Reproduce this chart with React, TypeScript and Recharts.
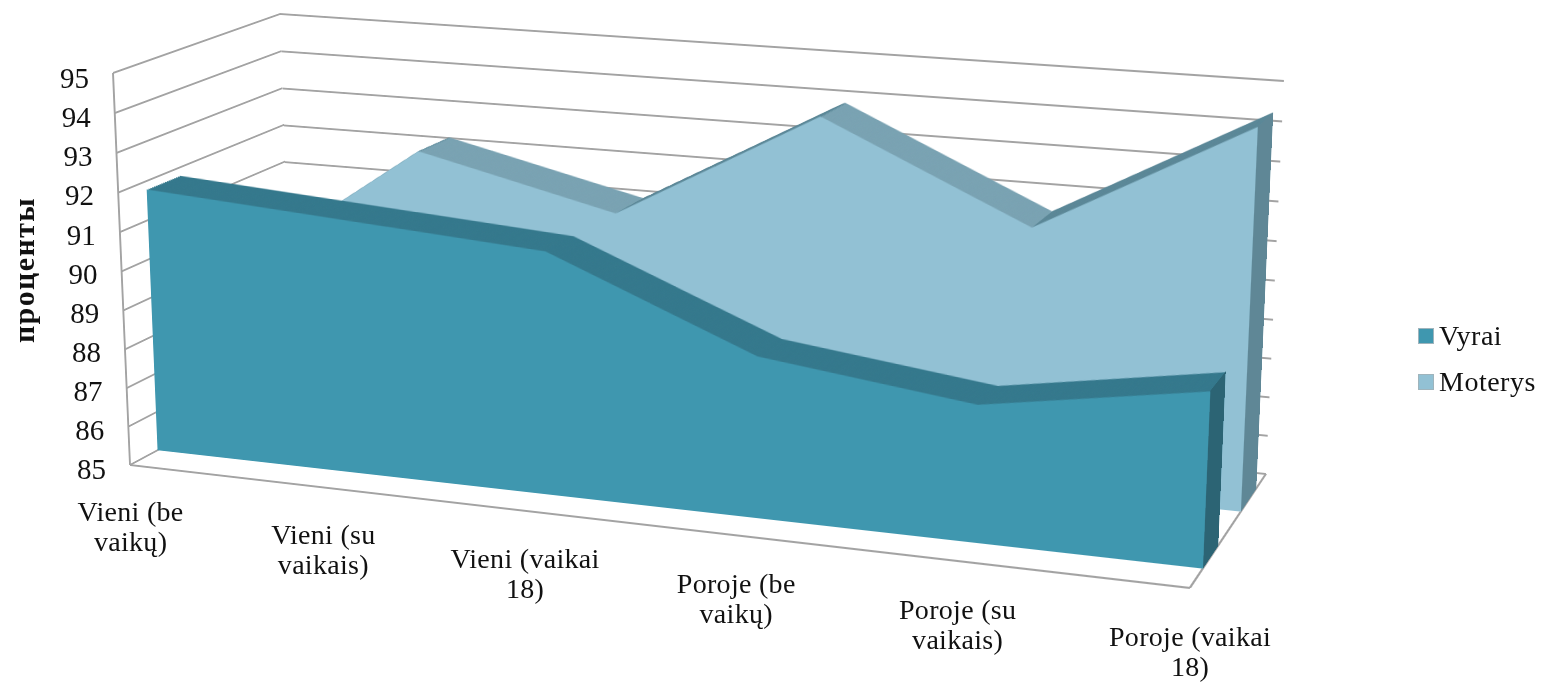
import React from 'react';
import { AreaChart, Area, XAxis, YAxis, ReferenceArea, ReferenceLine, Legend, Label } from 'recharts';

const categoryLines = [
  ['Vieni (be', 'vaikų)'],
  ['Vieni (su', 'vaikais)'],
  ['Vieni (vaikai', '18)'],
  ['Poroje (be', 'vaikų)'],
  ['Poroje (su', 'vaikais)'],
  ['Poroje (vaikai', '18)'],
];
const categories = categoryLines.map((l) => l.join(' '));
const vyrai = [91.8, 91.45, 91.1, 89.0, 88.35, 89.2];
const moterys = [88.7, 92.3, 91.1, 93.95, 91.6, 94.45];
const yTicks = [85, 86, 87, 88, 89, 90, 91, 92, 93, 94, 95];
const axisTitle = 'проценты';

const FONT = '"Liberation Serif", serif';
const GRID = '#a3a3a3';
const VYRAI_FRONT = '#3f97af';
const VYRAI_TOP = '#34788c';
const VYRAI_CAP = '#2c6474';
const MOTERYS_FRONT = '#92c1d4';
const MOTERYS_FALL = '#79a2b2';
const MOTERYS_RISE = '#5a8797';
const MOTERYS_CAP = '#5f8796';

const W = 1000;
const H = 400;
const M = 10;
const MARGIN = { top: M, right: M, bottom: M, left: M };
const INSET: React.CSSProperties = { position: 'absolute', left: -M, top: -M };

type Pt = [number, number];

// corners of the 3d box as seen on the page
const FLT: Pt = [113, 73];
const FLB: Pt = [130, 465];
const BLT: Pt = [280, 14];
const BLB: Pt = [292, 378];
const FRT: Pt = [1208, 150];
const FRB: Pt = [1190, 588];
const BRT: Pt = [1284, 81];
const BRB: Pt = [1266, 474];

const lerp = (a: Pt, b: Pt, t: number): Pt => [a[0] + (b[0] - a[0]) * t, a[1] + (b[1] - a[1]) * t];

// quad = top-left, top-right, bottom-right, bottom-left
const depthPlane = (f: number): Pt[] => [lerp(FLT, BLT, f), lerp(FRT, BRT, f), lerp(FRB, BRB, f), lerp(FLB, BLB, f)];
const capPlane = (f1: number, f2: number): Pt[] => [lerp(FRT, BRT, f1), lerp(FRT, BRT, f2), lerp(FRB, BRB, f2), lerp(FRB, BRB, f1)];

// rectangle W x H onto a quad
function homography(q: Pt[]) {
  const [[x0, y0], [x1, y1], [x2, y2], [x3, y3]] = q;
  const dx1 = x1 - x2, dx2 = x3 - x2, sx = x0 - x1 + x2 - x3;
  const dy1 = y1 - y2, dy2 = y3 - y2, sy = y0 - y1 + y2 - y3;
  const den = dx1 * dy2 - dx2 * dy1;
  const g = (sx * dy2 - dx2 * sy) / den;
  const h = (dx1 * sy - sx * dy1) / den;
  return {
    a: (x1 - x0 + g * x1) / W, b: (x3 - x0 + h * x3) / H, c: x0,
    d: (y1 - y0 + g * y1) / W, e: (y3 - y0 + h * y3) / H, f: y0,
    g: g / W, h: h / H,
  };
}

const warp = (q: Pt[]): React.CSSProperties => {
  const m = homography(q);
  return {
    position: 'absolute', left: 0, top: 0, width: W, height: H, transformOrigin: '0 0',
    transform: `matrix3d(${m.a},${m.d},0,${m.g},${m.b},${m.e},0,${m.h},0,0,1,0,${m.c},${m.f},0,1)`,
  };
};

const project = (q: Pt[], x: number, y: number): Pt => {
  const m = homography(q);
  const w = m.g * x + m.h * y + 1;
  return [(m.a * x + m.b * y + m.c) / w, (m.d * x + m.e * y + m.f) / w];
};

const rowsOf = (values: number[]) => categories.map((name, i) => ({ name, value: values[i] }));

const Face = ({ quad, values, fill, id, stops }: { quad: Pt[]; values: number[]; fill: string; id?: string; stops?: string[] }) => (
  <div style={warp(quad)}>
    <AreaChart width={W + 2 * M} height={H + 2 * M} data={rowsOf(values)} margin={MARGIN} style={INSET}>
      {stops && id ? (
        <defs>
          <linearGradient id={id} x1="0" y1="0" x2="1" y2="0">
            {stops.flatMap((c, i) => [
              <stop key={`${i}a`} offset={i / stops.length} stopColor={c} />,
              <stop key={`${i}b`} offset={(i + 1) / stops.length} stopColor={c} />,
            ])}
          </linearGradient>
        </defs>
      ) : null}
      <XAxis dataKey="name" hide />
      <YAxis hide domain={[85, 95]} />
      <Area dataKey="value" type="linear" stroke="none" fill={stops && id ? `url(#${id})` : fill} fillOpacity={1} isAnimationActive={false} />
    </AreaChart>
  </div>
);

const Cap = ({ quad, value, fill }: { quad: Pt[]; value: number; fill: string }) => (
  <div style={warp(quad)}>
    <AreaChart width={W + 2 * M} height={H + 2 * M} data={[{ name: 'a', value }, { name: 'b', value }]} margin={MARGIN} style={INSET}>
      <XAxis dataKey="name" hide />
      <YAxis hide domain={[85, 95]} />
      <Area dataKey="value" type="linear" stroke="none" fill={fill} fillOpacity={1} isAnimationActive={false} />
    </AreaChart>
  </div>
);

const Extruded = ({ name, values, near, far, front, top, cap }: { name: string; values: number[]; near: number; far: number; front: string; top: string[]; cap: string }) => {
  const steps = 18;
  const layers = Array.from({ length: steps }, (_, i) => far + ((near - far) * i) / steps);
  return (
    <>
      {layers.map((f, i) => (
        <Face key={i} quad={depthPlane(f)} values={values} fill={top[0]} id={`${name}-${i}`} stops={top} />
      ))}
      <Cap quad={capPlane(near, far)} value={values[values.length - 1]} fill={cap} />
      <Face quad={depthPlane(near)} values={values} fill={front} />
    </>
  );
};

const Wall = ({ quad }: { quad: Pt[] }) => (
  <div style={warp(quad)}>
    <AreaChart width={W + 2 * M} height={H + 2 * M} data={rowsOf(vyrai)} margin={MARGIN} style={INSET}>
      <XAxis dataKey="name" hide />
      <YAxis hide domain={[85, 95]} ticks={yTicks} />
      <Area dataKey="value" stroke="none" fill="none" isAnimationActive={false} />
      {yTicks.map((v) => (
        <ReferenceLine key={v} y={v} stroke={GRID} strokeWidth={2} />
      ))}
    </AreaChart>
  </div>
);

// value axis and category axis, both lie in the front plane
const FrontAxes = () => (
  <div style={warp(depthPlane(0))}>
    <AreaChart width={W + 2 * M} height={H + 2 * M} data={rowsOf(vyrai)} margin={MARGIN} style={INSET}>
      <XAxis dataKey="name" hide />
      <YAxis hide domain={[85, 95]} />
      <Area dataKey="value" stroke="none" fill="none" isAnimationActive={false} />
      <ReferenceLine y={85} stroke={GRID} strokeWidth={2} />
      <ReferenceLine x={categories[0]} stroke={GRID} strokeWidth={2} />
    </AreaChart>
  </div>
);

const Floor = () => (
  <div style={warp([BLB, BRB, FRB, FLB])}>
    <AreaChart width={W + 2 * M} height={H + 2 * M} data={rowsOf(vyrai)} margin={MARGIN} style={INSET}>
      <XAxis type="number" dataKey="value" hide domain={[0, 1]} allowDataOverflow />
      <YAxis hide domain={[0, 1]} allowDataOverflow />
      <ReferenceArea x1={0} x2={1} y1={0} y2={1} fill="#fff" stroke={GRID} strokeWidth={2} fillOpacity={0} ifOverflow="visible" />
    </AreaChart>
  </div>
);

const XTick = ({ x, index }: any) => {
  const u = x / 1541;
  const [px, py] = project(depthPlane(0), u * W, H);
  return (
    <text x={px} y={py + 56 + u * 2} textAnchor="middle" fontSize={28} letterSpacing={0.3} fontFamily={FONT} fill="#111">
      {categoryLines[index].map((line, i) => (
        <tspan key={line} x={px} dy={i === 0 ? 0 : 30}>{line}</tspan>
      ))}
    </text>
  );
};

const YTick = ({ y, payload }: any) => {
  const [px, py] = lerp(FLT, FLB, y / 682);
  return (
    <text x={px - 24} y={py + 15} textAnchor="end" fontSize={29} fontFamily={FONT} fill="#111">
      {payload.value}
    </text>
  );
};

const LegendBox = () => (
  <div style={{ fontFamily: FONT, fontSize: 28, letterSpacing: 0.5, color: '#111' }}>
    {[
      ['Vyrai', VYRAI_FRONT],
      ['Moterys', MOTERYS_FRONT],
    ].map(([name, color]) => (
      <div key={name} style={{ display: 'flex', alignItems: 'center', height: 46 }}>
        <span style={{ width: 14, height: 14, background: color, marginRight: 6, outline: '1px solid #9fb4bc' }} />
        {name}
      </div>
    ))}
  </div>
);

const Overlay = () => (
  <div style={{ position: 'absolute', left: 0, top: 0 }}>
    <AreaChart width={1541} height={682} data={rowsOf(vyrai)} margin={{ top: 0, right: 0, bottom: 0, left: 0 }}>
      <XAxis dataKey="name" height={1} interval={0} axisLine={false} tickLine={false} tick={<XTick />} />
      <YAxis width={1} domain={[85, 95]} ticks={yTicks} interval={0} axisLine={false} tickLine={false} tick={<YTick />}>
        <Label
          content={() => (
            <text transform="translate(34,270) rotate(-90)" textAnchor="middle" fontSize={30} letterSpacing={1.4} fontWeight="bold" fontFamily={FONT} fill="#111">
              {axisTitle}
            </text>
          )}
        />
      </YAxis>
      <Area dataKey="value" stroke="none" fill="none" isAnimationActive={false} legendType="none" />
      <Legend
        layout="vertical"
        align="center"
        verticalAlign="middle"
        content={<LegendBox />}
        wrapperStyle={{ left: 1419, top: 313, width: 122, bottom: 'auto' }}
      />
    </AreaChart>
  </div>
);

const App = () => (
  <div style={{ position: 'absolute', left: 0, top: 0, width: 1541, height: 682, background: '#fff', overflow: 'hidden' }}>
    <style>{'svg { overflow: visible; }'}</style>
    <Floor />
    <Wall quad={[BLT, BRT, BRB, BLB]} />
    <Wall quad={[FLT, BLT, BLB, FLB]} />
    <FrontAxes />
    <Extruded
      name="moterys"
      values={moterys}
      near={0.67}
      far={0.87}
      front={MOTERYS_FRONT}
      top={moterys.slice(1).map((v, i) => (v > moterys[i] ? MOTERYS_RISE : MOTERYS_FALL))}
      cap={MOTERYS_CAP}
    />
    <Extruded name="vyrai" values={vyrai} near={0.17} far={0.37} front={VYRAI_FRONT} top={[VYRAI_TOP]} cap={VYRAI_CAP} />
    <Overlay />
  </div>
);

export default App;
